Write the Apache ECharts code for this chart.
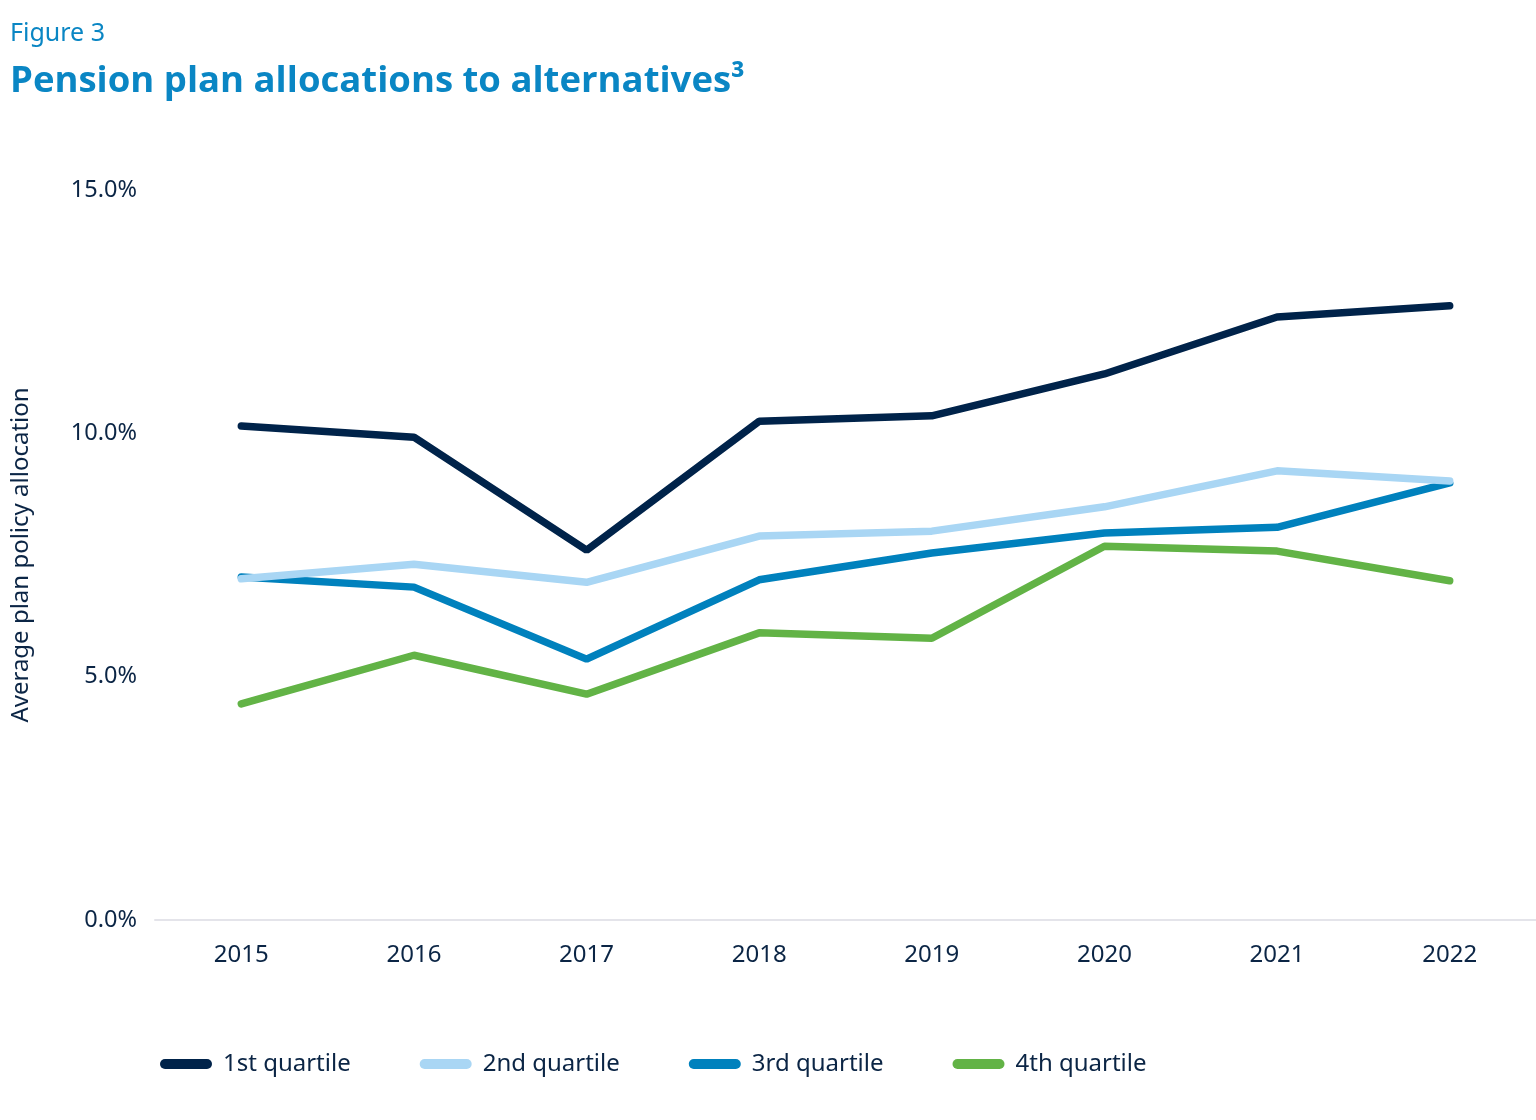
<!DOCTYPE html>
<html>
<head>
<meta charset="utf-8">
<script src="https://cdn.jsdelivr.net/npm/echarts@6/dist/echarts.min.js"></script>
<style>
html,body{margin:0;padding:0;background:#fff;}
#chart{width:1536px;height:1120px;}
</style>
</head>
<body>
<div id="chart"></div>
<script>
const years = ['2015','2016','2017','2018','2019','2020','2021','2022'];
const seriesNames = ['1st quartile','2nd quartile','3rd quartile','4th quartile'];
const q1 = [10.15, 9.92, 7.60, 10.25, 10.36, 11.22, 12.39, 12.62];
const q2 = [7.01, 7.31, 6.94, 7.89, 7.99, 8.49, 9.23, 9.02];
const q3 = [7.05, 6.84, 5.36, 6.99, 7.54, 7.95, 8.07, 8.98];
const q4 = [4.44, 5.44, 4.64, 5.90, 5.79, 7.68, 7.58, 6.97];
const colors = ['#00234A', '#A9D6F4', '#0081BD', '#62B346'];

const textColor = '#0B2545';
const font = '"Noto Sans", "Open Sans", sans-serif';
const chart = echarts.init(document.getElementById('chart'));
const dataSets = [q1, q2, q3, q4];
chart.setOption({
  backgroundColor: '#ffffff',
  animation: false,
  title: [
    {text: 'Figure 3', left: 10, top: 21, padding: 0, textStyle: {fontFamily: font, fontSize: 25, fontWeight: 'normal', color: '#0A86C4'}},
    {text: 'Pension plan allocations to alternatives³', left: 10, top: 63, padding: 0, textStyle: {fontFamily: '"Open Sans", "Noto Sans", sans-serif', fontSize: 36.5, fontWeight: 'bold', color: '#0A86C4'}}
  ],
  legend: {
    bottom: 39, left: 155,
    itemGap: 69,
    itemWidth: 52, itemHeight: 10,
    icon: 'path://M5,0 L47,0 A5,5 0 0 1 47,10 L5,10 A5,5 0 0 1 5,0 Z',
    data: seriesNames,
    textStyle: {fontFamily: font, fontSize: 24, color: textColor, padding: [0, 0, 0, 6]}
  },
  grid: {left: 155, right: 0, top: 190, bottom: 200, containLabel: false},
  xAxis: {
    type: 'category',
    data: years,
    boundaryGap: true,
    axisLine: {show: true, lineStyle: {color: '#E4E4EA', width: 2}},
    axisTick: {show: false},
    axisLabel: {fontFamily: font, fontSize: 24, color: textColor, margin: 23}
  },
  yAxis: {
    type: 'value',
    min: 0, max: 15, interval: 5,
    name: 'Average plan policy allocation',
    nameLocation: 'middle',
    nameGap: 122,
    nameTextStyle: {fontFamily: font, fontSize: 24, color: textColor},
    axisLine: {show: false},
    axisTick: {show: false},
    splitLine: {show: false},
    axisLabel: {fontFamily: font, fontSize: 23.5, color: textColor, margin: 18,
      formatter: v => v.toFixed(1) + '%'}
  },
  series: seriesNames.map((n, i) => ({
    name: n,
    type: 'line',
    data: dataSets[i],
    symbol: 'none',
    lineStyle: {color: colors[i], width: 7.5, cap: 'round', join: 'bevel'},
    itemStyle: {color: colors[i]},
    z: 10 - i
  }))
});
</script>
</body>
</html>
